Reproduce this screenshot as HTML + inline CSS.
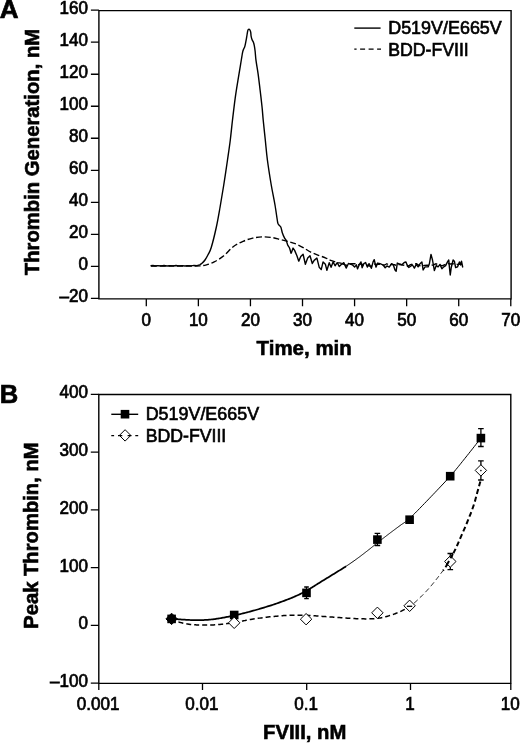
<!DOCTYPE html>
<html lang="en">
<head>
<meta charset="utf-8">
<title>Thrombin generation figure</title>
<style>
html,body{margin:0;padding:0;background:#fff;}
body{width:520px;height:743px;overflow:hidden;}
svg{display:block;}
text{font-family:"Liberation Sans", Arial, Helvetica, sans-serif;fill:#000;}
.ax{fill:none;stroke:#000;stroke-width:1.4;}
.tk{fill:none;stroke:#000;stroke-width:1.3;}
.ln{fill:none;stroke:#000;stroke-width:1.4;stroke-linejoin:round;stroke-linecap:butt;}
.lb{fill:none;stroke:#000;stroke-linejoin:round;}
.lbd{fill:none;stroke:#000;stroke-linejoin:round;stroke-dasharray:5 3;}
.dm{stroke:#000;stroke-width:1;}
.eb{fill:none;stroke:#000;stroke-width:1.3;}
.tl{font-size:17.5px;stroke:#000;stroke-width:0.7px;}
.lg{font-size:18.2px;stroke:#000;stroke-width:0.65px;}
.ti{font-size:20.8px;font-weight:bold;stroke:#000;stroke-width:0.6px;}
.pl{font-size:26px;font-weight:bold;stroke:#000;stroke-width:0.7px;}
</style>
</head>
<body>
<svg width="520" height="743" viewBox="0 0 520 743">
<rect x="0" y="0" width="520" height="743" fill="#fff"/>
<g id="panelA">
<path class="ax" d="M98.9 10.6 H511.1 V298.9 H98.9 Z"/>
<path class="tk" d="M90.9 298.37H98.9M90.9 266.35H98.9M90.9 234.33H98.9M90.9 202.31H98.9M90.9 170.29H98.9M90.9 138.27H98.9M90.9 106.25H98.9M90.9 74.23H98.9M90.9 42.21H98.9M90.9 10.19H98.9M146.3 298.9V306.2M198.37 298.9V306.2M250.44 298.9V306.2M302.51 298.9V306.2M354.58 298.9V306.2M406.65 298.9V306.2M458.72 298.9V306.2M510.79 298.9V306.2"/>
<text class="tl" x="87.9" y="302.07" text-anchor="end" textLength="28.46" lengthAdjust="spacingAndGlyphs">–20</text>
<text class="tl" x="87.9" y="270.05" text-anchor="end" textLength="9.49" lengthAdjust="spacingAndGlyphs">0</text>
<text class="tl" x="87.9" y="238.03" text-anchor="end" textLength="18.97" lengthAdjust="spacingAndGlyphs">20</text>
<text class="tl" x="87.9" y="206.01" text-anchor="end" textLength="18.97" lengthAdjust="spacingAndGlyphs">40</text>
<text class="tl" x="87.9" y="173.99" text-anchor="end" textLength="18.97" lengthAdjust="spacingAndGlyphs">60</text>
<text class="tl" x="87.9" y="141.97" text-anchor="end" textLength="18.97" lengthAdjust="spacingAndGlyphs">80</text>
<text class="tl" x="87.9" y="109.95" text-anchor="end" textLength="28.46" lengthAdjust="spacingAndGlyphs">100</text>
<text class="tl" x="87.9" y="77.93" text-anchor="end" textLength="28.46" lengthAdjust="spacingAndGlyphs">120</text>
<text class="tl" x="87.9" y="45.91" text-anchor="end" textLength="28.46" lengthAdjust="spacingAndGlyphs">140</text>
<text class="tl" x="87.9" y="13.89" text-anchor="end" textLength="28.46" lengthAdjust="spacingAndGlyphs">160</text>
<text class="tl" x="146.3" y="326" text-anchor="middle" textLength="9.49" lengthAdjust="spacingAndGlyphs">0</text>
<text class="tl" x="198.37" y="326" text-anchor="middle" textLength="18.97" lengthAdjust="spacingAndGlyphs">10</text>
<text class="tl" x="250.44" y="326" text-anchor="middle" textLength="18.97" lengthAdjust="spacingAndGlyphs">20</text>
<text class="tl" x="302.51" y="326" text-anchor="middle" textLength="18.97" lengthAdjust="spacingAndGlyphs">30</text>
<text class="tl" x="354.58" y="326" text-anchor="middle" textLength="18.97" lengthAdjust="spacingAndGlyphs">40</text>
<text class="tl" x="406.65" y="326" text-anchor="middle" textLength="18.97" lengthAdjust="spacingAndGlyphs">50</text>
<text class="tl" x="458.72" y="326" text-anchor="middle" textLength="18.97" lengthAdjust="spacingAndGlyphs">60</text>
<text class="tl" x="510.79" y="326" text-anchor="middle" textLength="18.97" lengthAdjust="spacingAndGlyphs">70</text>
<path class="ln" d="M150.5 265.8 L153 265.5 L155 266 L158 265.6 L161 265.9 L164 265.5 L167 266 L170 265.7 L173 265.9 L176 265.5 L179 265.9 L182 265.6 L185 266 L188 265.6 L191 265.9 L194 265.4 L197 265.6 L199.5 264.9"/>
<path class="ln" d="M199.5 264.9 C199.92 264.63 201.08 264.12 202 263.3 C202.92 262.48 204 261.42 205 260 C206 258.58 206.96 256.88 208 254.8 C209.04 252.72 209.88 252.05 211.25 247.5 C212.62 242.95 214.79 234.17 216.25 227.5 C217.71 220.83 218.75 214.58 220 207.5 C221.25 200.42 222.5 192.92 223.75 185 C225 177.08 226.41 167.5 227.5 160 C228.59 152.5 229.47 146.67 230.3 140 C231.13 133.33 231.68 126.98 232.5 120 C233.32 113.02 234.3 104.67 235.2 98.1 C236.1 91.53 237 86.22 237.9 80.6 C238.8 74.98 239.82 69.12 240.6 64.4 C241.38 59.68 242.08 54.88 242.6 52.3 C243.12 49.72 243.32 49.92 243.7 48.9 C244.08 47.88 244.42 48.1 244.9 46.2 C245.38 44.3 246.13 40.07 246.6 37.5 C247.07 34.93 247.37 32.17 247.7 30.8 C248.03 29.43 248.27 29.5 248.6 29.3 C248.93 29.1 249.35 29.13 249.7 29.6 C250.05 30.07 250.47 31 250.7 32.1 C250.93 33.2 250.88 34.97 251.1 36.2 C251.32 37.43 251.62 38.5 252 39.5 C252.38 40.5 253.02 41.18 253.4 42.2 C253.78 43.22 254.02 44.13 254.3 45.6 C254.58 47.07 254.82 48.53 255.1 51 C255.38 53.47 255.5 56.6 256 60.4 C256.5 64.2 257.42 68.87 258.1 73.8 C258.78 78.73 259.43 84.38 260.1 90 C260.77 95.62 261.58 102.5 262.1 107.5 C262.62 112.5 262.67 114.58 263.2 120 C263.73 125.42 264.6 133.33 265.3 140 C266 146.67 266.41 152.5 267.4 160 C268.39 167.5 269.98 177.5 271.25 185 C272.52 192.5 273.94 198.83 275 205 C276.06 211.17 277 218.73 277.6 222 C278.2 225.27 278.07 223.77 278.6 224.6 C279.13 225.43 280.18 225.65 280.8 227 C281.42 228.35 281.67 230.85 282.3 232.7 C282.93 234.55 283.95 236.82 284.6 238.1 C285.25 239.38 285.68 239.25 286.2 240.4 C286.72 241.55 287.15 243.72 287.7 245 C288.25 246.28 288.93 246.68 289.5 248.1 C290.07 249.52 290.83 252.6 291.1 253.5"/>
<path class="ln" d="M291.1 253.5 L293.08 248.08 L294.62 250.38 L296.92 255.77 L298.77 261.15 L300.77 256.54 L303.08 254.23 L305.38 264.23 L307.69 258.08 L310 255.77 L312.31 263.46 L314.15 260.38 L316.92 258.08 L319.23 267.31 L321.23 269.62 L323.08 261.92 L325.38 264.23 L326.92 270.38 L329.23 262.69 L331.08 267.31 L333.08 261.92 L335.08 265.77 L337.23 262.69 L339.23 266.54 L341.54 264.23 L343.85 262.69 L346.15 268.08 L348.46 263.46 L352.31 264.81 L354.62 267.11 L356.35 264.81 L357.5 268.85 L359.23 264.81 L360.96 261.92 L362.11 267.69 L363.85 263.65 L365.58 262.5 L367.31 267.11 L369.04 263.65 L371.35 268.27 L373.08 261.92 L374.23 259.61 L375.96 267.11 L377.69 263.08 L380 263.65 L382.88 264.81 L385.19 267.69 L386.92 265.96 L389.23 267.11 L391.54 263.65 L393.27 264.81 L395 270 L396.15 271.15 L397.31 263.08 L399.61 264.23 L401.92 264.81 L404.23 262.5 L405.96 261.92 L407.69 266.54 L406.88 264.38 L408.75 267.5 L410.62 266.25 L412.5 265 L414.38 268.12 L416.25 264.38 L418.12 266.88 L420 263.75 L421.88 261.88 L423.12 270 L425 266.88 L428.12 266.88 L429.38 263.75 L431 254.38 L432.5 260 L434.38 270.62 L436.25 265.62 L438.12 266.88 L440 264.38 L441.88 268.75 L443.75 266.88 L445.62 265.62 L447.5 261.88 L448.75 260 L449.38 266.88 L450.25 275 L451.25 267.5 L453.12 260 L454.38 261.25 L455.62 267.5 L457.5 266.88 L459.38 261.88 L460.62 265 L461.5 261.25 L462.75 267.5"/>
<path class="ln" stroke-dasharray="6 2.7" d="M151 266 C154.17 266 163.5 266 170 266 C176.5 266 185 266.02 190 266 C195 265.98 197.25 266.1 200 265.9 C202.75 265.7 204.13 265.47 206.5 264.8 C208.87 264.13 211.32 263.4 214.2 261.9 C217.08 260.4 220.58 258.37 223.8 255.8 C227.02 253.23 230.28 248.92 233.5 246.5 C236.72 244.08 239.9 242.7 243.1 241.3 C246.3 239.9 249.5 238.83 252.7 238.1 C255.9 237.37 259.1 237 262.3 236.9 C265.5 236.8 268.85 237.05 271.9 237.5 C274.95 237.95 277.58 238.85 280.6 239.6 C283.62 240.35 287.27 241.2 290 242 C292.73 242.8 294.7 243.42 297 244.4 C299.3 245.38 301.5 246.6 303.8 247.9 C306.1 249.2 308.35 250.97 310.8 252.2 C313.25 253.43 316.07 254.37 318.5 255.3 C320.93 256.23 323.23 256.9 325.4 257.8 C327.57 258.7 328.82 259.75 331.5 260.7 C334.18 261.65 339.83 263.03 341.5 263.5"/>
<path class="ln" stroke-dasharray="6 2.7" d="M341.5 263.5 L344 264.44 L346.21 265.29 L348.31 264.99 L350.82 263.75 L353.53 263.7 L356.14 263.78 L358.27 264.7 L361.43 263.92 L363.74 265.23 L367.07 265.1 L369.62 266.14 L371.69 265.83 L374.09 263.98 L376.26 264.4 L379.4 264.07 L382.21 265.26 L384.74 265.02 L386.82 263.75 L389.11 265.37 L391.71 264.42 L394.53 264.78 L396.95 265.67 L399.93 264.23 L402.73 264.97 L405.96 265.5 L408.36 266.15 L410.53 264.69 L413.59 264 L416.27 263.7 L419.21 265.59 L422.01 265.88 L424.45 265.41 L427.28 265.11 L429.92 265.78 L433.24 264.83 L436.17 263.76 L439.15 265.28 L442.54 265.74 L444.94 264.6 L447.88 263.66 L450.52 264.04 L452.69 263.75 L455.76 263.94 L458.11 264.62 L461.33 263.81"/>
<path class="ln" d="M354.3 28.1H380.6"/>
<path class="ln" stroke-dasharray="5 3.5" stroke-dashoffset="2.7" d="M354.3 49.1H381"/>
<text class="lg" x="388.2" y="33.8" textLength="113.6" lengthAdjust="spacingAndGlyphs">D519V/E665V</text>
<text class="lg" x="388.2" y="55.5" textLength="80.6" lengthAdjust="spacingAndGlyphs">BDD-FVIII</text>
<text class="ti" transform="translate(39.3 275.2) rotate(-90)" textLength="246.4" lengthAdjust="spacingAndGlyphs">Thrombin Generation, nM</text>
<text class="ti" x="256.6" y="355.4" textLength="95.2" lengthAdjust="spacingAndGlyphs">Time, min</text>
<text class="pl" x="-0.2" y="18.3">A</text>
</g>
<g id="panelB">
<path class="ax" d="M98.8 394.5 H510.8 V683.4 H98.8 Z"/>
<path class="tk" d="M90.8 683.21H98.8M90.8 625.45H98.8M90.8 567.69H98.8M90.8 509.93H98.8M90.8 452.17H98.8M90.8 394.41H98.8M98.8 683.4V690M202.5 683.4V690M306.7 683.4V690M410.5 683.4V690M510.8 683.4V690"/>
<text class="tl" x="88" y="687.11" text-anchor="end" textLength="37.95" lengthAdjust="spacingAndGlyphs">–100</text>
<text class="tl" x="88" y="629.35" text-anchor="end" textLength="9.49" lengthAdjust="spacingAndGlyphs">0</text>
<text class="tl" x="88" y="571.59" text-anchor="end" textLength="28.46" lengthAdjust="spacingAndGlyphs">100</text>
<text class="tl" x="88" y="513.83" text-anchor="end" textLength="28.46" lengthAdjust="spacingAndGlyphs">200</text>
<text class="tl" x="88" y="456.07" text-anchor="end" textLength="28.46" lengthAdjust="spacingAndGlyphs">300</text>
<text class="tl" x="88" y="398.31" text-anchor="end" textLength="28.46" lengthAdjust="spacingAndGlyphs">400</text>
<text class="tl" x="98.2" y="709.8" text-anchor="middle" textLength="42.69" lengthAdjust="spacingAndGlyphs">0.001</text>
<text class="tl" x="201.9" y="709.8" text-anchor="middle" textLength="33.2" lengthAdjust="spacingAndGlyphs">0.01</text>
<text class="tl" x="306.1" y="709.8" text-anchor="middle" textLength="23.72" lengthAdjust="spacingAndGlyphs">0.1</text>
<text class="tl" x="409.9" y="709.8" text-anchor="middle" textLength="9.49" lengthAdjust="spacingAndGlyphs">1</text>
<text class="tl" x="510.2" y="709.8" text-anchor="middle" textLength="18.97" lengthAdjust="spacingAndGlyphs">10</text>
<path class="lb" stroke-width="1.75" d="M171.2 618.6 L171.62 618.64 L172.14 618.69 L172.75 618.75 L173.44 618.81 L174.18 618.89 L174.98 618.96 L175.8 619.04 L176.65 619.12 L177.51 619.2 L178.36 619.27 L179.2 619.34 L180 619.4 L180.8 619.46 L181.62 619.52 L182.46 619.57 L183.32 619.63 L184.18 619.68 L185.05 619.74 L185.91 619.79 L186.77 619.84 L187.61 619.88 L188.44 619.93 L189.23 619.96 L190 620 L190.72 620.03 L191.4 620.07 L192.05 620.1 L192.67 620.13 L193.27 620.15 L193.88 620.17 L194.48 620.19 L195.11 620.21 L195.77 620.22 L196.46 620.22 L197.2 620.21 L198 620.2 L198.86 620.18 L199.77 620.16 L200.72 620.13 L201.7 620.1 L202.72 620.06 L203.75 620.02 L204.8 619.97 L205.85 619.91 L206.91 619.85 L207.95 619.77 L208.99 619.69 L210 619.6 L211 619.5 L212 619.39 L213 619.27 L213.99 619.14 L214.99 619.01 L215.99 618.87 L216.99 618.72 L217.99 618.57 L218.99 618.41 L219.99 618.24 L220.99 618.07 L222 617.9 L223 617.72 L223.98 617.54 L224.95 617.36 L225.92 617.17 L226.89 616.98 L227.86 616.78 L228.85 616.57 L229.86 616.36 L230.89 616.14 L231.96 615.9 L233.06 615.66 L234.2 615.4 L235.37 615.14 L236.56 614.87 L237.77 614.6 L239 614.32 L240.25 614.04 L241.54 613.74 L242.85 613.43 L244.2 613.1 L245.59 612.76 L247.01 612.39 L248.48 612.01 L250 611.6 L251.58 611.17 L253.22 610.71 L254.92 610.23 L256.67 609.74 L258.46 609.22 L260.27 608.69 L262.1 608.15 L263.94 607.6 L265.78 607.03 L267.61 606.46 L269.42 605.88 L271.2 605.3 L272.98 604.71 L274.8 604.09 L276.64 603.46 L278.49 602.81 L280.34 602.16 L282.18 601.49 L283.99 600.83 L285.77 600.17 L287.5 599.51 L289.17 598.86 L290.78 598.22 L292.3 597.6 L293.74 596.99 L295.11 596.4 L296.42 595.82 L297.67 595.24 L298.87 594.67 L300.04 594.1 L301.17 593.53 L302.29 592.96 L303.39 592.38 L304.49 591.8 L305.59 591.21 L306.7 590.6 L307.81 589.98 L308.88 589.36 L309.94 588.74 L310.97 588.11 L311.99 587.47 L313.01 586.83 L314.02 586.19 L315.03 585.54 L316.05 584.88 L317.08 584.23 L318.13 583.56 L319.2 582.9 L320.29 582.23 L321.39 581.55 L322.5 580.87 L323.63 580.18 L324.75 579.49 L325.89 578.79 L327.02 578.1 L328.16 577.4 L329.3 576.7 L330.44 576 L331.57 575.3 L332.7 574.6 L333.83 573.9 L334.97 573.2 L336.12 572.5 L337.27 571.79 L338.43 571.09 L339.57 570.38 L340.72 569.68 L341.85 568.97 L342.97 568.27 L344.07 567.58 L345.15 566.89 L346 566.33"/>
<path class="lb" stroke-width="1.0" d="M346 566.33 L346.2 566.2 L347.23 565.52 L348.23 564.85 L349.22 564.19 L350.18 563.53 L351.13 562.88 L352.07 562.23 L353.01 561.57 L353.94 560.91 L354.87 560.25 L355.81 559.58 L356.75 558.89 L357.7 558.2 L358.67 557.49 L359.66 556.75 L360.66 556 L361.67 555.23 L362.68 554.46 L363.69 553.69 L364.68 552.92 L365.65 552.17 L366.59 551.44 L367.5 550.73 L368.37 550.04 L369.2 549.4 L369.96 548.8 L370.66 548.25 L371.3 547.73 L371.9 547.24 L372.48 546.77 L373.04 546.31 L373.61 545.85 L374.19 545.38 L374.79 544.89 L375.43 544.37 L376.13 543.81 L376.9 543.2 L377.73 542.55 L378.61 541.86 L379.53 541.14 L380.48 540.39 L381.46 539.63 L382.46 538.85 L383.48 538.06 L384.5 537.27 L385.52 536.49 L386.53 535.71 L387.52 534.94 L388.5 534.2 L389.47 533.46 L390.44 532.73 L391.43 531.99 L392.41 531.25 L393.39 530.52 L394.38 529.79 L395.35 529.06 L396.31 528.35 L397.26 527.64 L398.19 526.95 L399.11 526.27 L400 525.6 L400.84 524.99 L401.61 524.45 L402.33 523.96 L403.02 523.51 L403.7 523.07 L404.38 522.61 L405.09 522.12 L405.83 521.58 L406.64 520.95 L407.52 520.23 L408.5 519.39 L409.6 518.4 L410.8 517.28 L412.09 516.04 L413.45 514.71 L414.87 513.3 L416.36 511.8 L417.9 510.24 L419.48 508.62 L421.1 506.95 L422.75 505.24 L424.42 503.51 L426.11 501.76 L427.8 500 L429.54 498.19 L431.37 496.29 L433.26 494.32 L435.2 492.3 L437.17 490.23 L439.15 488.15 L441.12 486.06 L443.07 483.99 L444.97 481.95 L446.8 479.96 L448.55 478.04 L450.2 476.2 L451.75 474.44 L453.23 472.73 L454.64 471.07 L455.99 469.45 L457.3 467.86 L458.57 466.29 L459.81 464.75 L461.04 463.21 L462.27 461.67 L463.5 460.13 L464.74 458.57 L466 457 L467.32 455.35 L468.71 453.61 L470.14 451.81 L471.59 449.98 L473.03 448.15 L474.44 446.35 L475.79 444.62 L477.07 442.99 L478.24 441.49 L479.29 440.15 L480.18 439.01 L480.9 438.1"/>
<path class="lbd" stroke-width="1.5" stroke-dashoffset="0" d="M171.2 618.6 L171.61 618.78 L172.11 619.01 L172.71 619.29 L173.38 619.6 L174.1 619.93 L174.88 620.28 L175.67 620.64 L176.49 620.99 L177.3 621.34 L178.1 621.66 L178.87 621.95 L179.6 622.2 L180.3 622.42 L181 622.63 L181.7 622.82 L182.4 623 L183.09 623.17 L183.79 623.33 L184.49 623.47 L185.19 623.61 L185.89 623.74 L186.59 623.87 L187.3 623.99 L188 624.1 L188.68 624.21 L189.31 624.31 L189.92 624.4 L190.51 624.48 L191.1 624.55 L191.71 624.62 L192.35 624.68 L193.03 624.73 L193.78 624.78 L194.59 624.83 L195.49 624.86 L196.5 624.9 L197.63 624.93 L198.87 624.96 L200.2 624.99 L201.62 625.01 L203.09 625.03 L204.61 625.04 L206.14 625.05 L207.68 625.04 L209.21 625.02 L210.7 625 L212.13 624.96 L213.5 624.9 L214.82 624.83 L216.12 624.74 L217.4 624.64 L218.67 624.53 L219.93 624.41 L221.17 624.28 L222.39 624.14 L223.6 624 L224.8 623.85 L225.98 623.7 L227.15 623.55 L228.3 623.4 L229.44 623.25 L230.56 623.08 L231.66 622.92 L232.75 622.74 L233.83 622.57 L234.89 622.39 L235.94 622.21 L236.97 622.02 L237.99 621.84 L239.01 621.66 L240.01 621.48 L241 621.3 L241.95 621.13 L242.84 620.95 L243.68 620.78 L244.49 620.61 L245.29 620.45 L246.09 620.27 L246.92 620.1 L247.79 619.93 L248.71 619.75 L249.71 619.57 L250.8 619.39 L252 619.2 L253.32 619 L254.75 618.79 L256.28 618.58 L257.88 618.35 L259.54 618.13 L261.24 617.9 L262.95 617.68 L264.67 617.46 L266.38 617.25 L268.04 617.05 L269.66 616.87 L271.2 616.7 L272.68 616.55 L274.12 616.4 L275.54 616.26 L276.93 616.13 L278.31 616.01 L279.67 615.9 L281.04 615.8 L282.4 615.7 L283.77 615.61 L285.16 615.53 L286.57 615.46 L288 615.4 L289.46 615.35 L290.93 615.3 L292.42 615.26 L293.91 615.23 L295.41 615.21 L296.93 615.19 L298.44 615.19 L299.96 615.19 L301.47 615.21 L302.99 615.23 L304.5 615.26 L306 615.3 L307.5 615.35 L309.01 615.42 L310.52 615.51 L312.04 615.6 L313.55 615.71 L315.06 615.82 L316.57 615.93 L318.07 616.05 L319.57 616.17 L321.06 616.28 L322.54 616.4 L324 616.5 L325.44 616.6 L326.86 616.7 L328.25 616.8 L329.63 616.9 L331 617.01 L332.38 617.11 L333.75 617.21 L335.15 617.31 L336.56 617.41 L338 617.51 L339.48 617.6 L341 617.7 L342.58 617.8 L344.22 617.91 L345.91 618.01 L347.63 618.13 L349.37 618.24 L351.12 618.34 L352.87 618.45 L354.59 618.54 L356.28 618.63 L357.92 618.7 L359.5 618.76 L361 618.8 L362.43 618.83 L363.82 618.86 L365.16 618.88 L366.46 618.89 L367.72 618.89 L368.96 618.88 L370.17 618.86 L371.36 618.82 L372.53 618.77 L373.69 618.7 L374.85 618.61 L376 618.5 L377.14 618.37 L378.25 618.23 L379.34 618.06 L380.41 617.89 L381.46 617.69 L382.5 617.48 L383.53 617.26 L384.56 617.01 L385.59 616.76 L386.62 616.49 L387.65 616.2 L388.7 615.9 L389.76 615.58 L390.83 615.25 L391.9 614.89 L392.98 614.52 L394.05 614.14 L395.12 613.74 L396.19 613.32 L397.24 612.9 L398.29 612.46 L399.31 612.02 L400.32 611.56 L401.3 611.1 L402.26 610.63 L403.21 610.15 L404.14 609.66 L405.05 609.16 L405.95 608.65 L406.84 608.13 L407.72 607.6 L408.59 607.05 L409.45 606.49 L409.6 606.39"/>
<path class="lbd" stroke-width="0.9" stroke-dashoffset="2.65" d="M409.6 606.39 L410.31 605.91 L411.16 605.31 L412 604.7 L412.83 604.07 L413.66 603.42 L414.46 602.76 L415.26 602.08 L416.05 601.38 L416.84 600.68 L417.62 599.95 L418.39 599.22 L419.17 598.48 L419.94 597.73 L420.72 596.97 L421.5 596.2 L422.28 595.42 L423.06 594.64 L423.84 593.84 L424.62 593.04 L425.39 592.22 L426.17 591.39 L426.94 590.56 L427.71 589.71 L428.49 588.85 L429.26 587.98 L430.03 587.09 L430.8 586.2 L431.57 585.29 L432.36 584.35 L433.14 583.39 L433.93 582.42 L434.72 581.44 L435.5 580.45 L436.28 579.46 L437.05 578.47 L437.81 577.48 L438.55 576.51 L439.29 575.54 L440 574.6 L440.69 573.68 L441.37 572.8 L442.03 571.93 L442.68 571.08 L443 570.65"/>
<path class="lbd" stroke-width="2.0" stroke-dashoffset="3.77" d="M443 570.65 L443.31 570.24 L443.94 569.39 L444.57 568.53 L445.19 567.65 L445.81 566.75 L446.43 565.81 L447.06 564.83 L447.7 563.8 L448.35 562.71 L449 561.58 L449.66 560.4 L450.33 559.19 L450.99 557.95 L451.65 556.69 L452.31 555.42 L452.95 554.15 L453.59 552.88 L454.21 551.63 L454.81 550.4 L455.4 549.2 L455.97 548.02 L456.52 546.84 L457.05 545.67 L457.57 544.51 L458.08 543.35 L458.58 542.19 L459.07 541.05 L459.56 539.9 L460.05 538.77 L460.53 537.64 L461.01 536.52 L461.5 535.4 L461.98 534.31 L462.45 533.24 L462.92 532.2 L463.37 531.17 L463.83 530.15 L464.28 529.13 L464.74 528.1 L465.19 527.05 L465.66 525.97 L466.13 524.86 L466.61 523.71 L467.1 522.5 L467.61 521.24 L468.15 519.91 L468.7 518.55 L469.26 517.14 L469.82 515.71 L470.39 514.27 L470.95 512.82 L471.5 511.37 L472.04 509.93 L472.55 508.52 L473.04 507.14 L473.5 505.8 L473.93 504.49 L474.34 503.19 L474.73 501.89 L475.1 500.6 L475.46 499.33 L475.8 498.08 L476.13 496.84 L476.46 495.62 L476.77 494.42 L477.08 493.25 L477.39 492.11 L477.7 491 L478.01 489.89 L478.33 488.76 L478.65 487.62 L478.96 486.5 L479.27 485.39 L479.56 484.32 L479.84 483.31 L480.11 482.36 L480.35 481.49 L480.56 480.71 L480.75 480.05 L480.9 479.5"/>
<path class="eb" d="M306.5 587V598.6M304.2 587H308.8M304.2 598.6H308.8"/>
<path class="eb" d="M377.4 533.4V545.5M374.6 533.4H380.2M374.6 545.5H380.2"/>
<path class="eb" d="M480.9 428.6V446.5M478.1 428.6H483.7M478.1 446.5H483.7"/>
<path class="eb" d="M480.9 460.9V480M478.1 460.9H483.7M478.1 480H483.7"/>
<path class="eb" d="M450.3 553.5V569.7M447.5 553.5H453.1M447.5 569.7H453.1"/>
<rect x="167.3" y="614.6" width="8.6" height="8.6" fill="#000"/>
<rect x="229.9" y="610.7" width="8.6" height="8.6" fill="#000"/>
<rect x="302.2" y="588.6" width="8.6" height="8.6" fill="#000"/>
<rect x="373.1" y="535.3" width="8.6" height="8.6" fill="#000"/>
<rect x="405.3" y="515.4" width="8.6" height="8.6" fill="#000"/>
<rect x="445.9" y="471.9" width="8.6" height="8.6" fill="#000"/>
<rect x="476.6" y="433.8" width="8.6" height="8.6" fill="#000"/>
<path class="dm" fill="#000" d="M165.9 618.9L171.6 613.2L177.3 618.9L171.6 624.6Z"/>
<path class="dm" fill="#fff" d="M228.5 622.8L234.2 617.1L239.9 622.8L234.2 628.5Z"/>
<path class="dm" fill="#fff" d="M300.4 619.2L306.1 613.5L311.8 619.2L306.1 624.9Z"/>
<path class="dm" fill="#fff" d="M371.7 612.8L377.4 607.1L383.1 612.8L377.4 618.5Z"/>
<path class="dm" fill="#fff" d="M403.9 605.8L409.6 600.1L415.3 605.8L409.6 611.5Z"/>
<path class="dm" fill="#fff" d="M444.6 561.5L450.3 555.8L456 561.5L450.3 567.2Z"/>
<path class="dm" fill="#fff" d="M475.2 470.4L480.9 464.7L486.6 470.4L480.9 476.1Z"/>
<path class="eb" d="M406.9 606.3H412.2"/>
<circle cx="480.9" cy="470.6" r="0.8" fill="#000"/>
<path class="lbd" stroke-width="2" d="M446.6 565.3L453.6 552.6"/>
<path class="ln" d="M111.3 414.3H138.2"/>
<rect x="120.7" y="409.9" width="8.6" height="8.6" fill="#000"/>
<path class="dm" fill="none" d="M119.4 435.4L125.1 429.7L130.8 435.4L125.1 441.1Z"/>
<path class="ln" d="M111.3 435.6H114.1M118 435.6H122.3M127.6 435.6H131.4M135.3 435.6H138.2"/>
<text class="lg" x="145.7" y="420.4" textLength="113.4" lengthAdjust="spacingAndGlyphs">D519V/E665V</text>
<text class="lg" x="145.7" y="441.9" textLength="80.6" lengthAdjust="spacingAndGlyphs">BDD-FVIII</text>
<text class="ti" transform="translate(38.4 628.8) rotate(-90)" textLength="186.4" lengthAdjust="spacingAndGlyphs">Peak Thrombin, nM</text>
<text class="ti" x="263" y="739.2" textLength="83.3" lengthAdjust="spacingAndGlyphs">FVIII, nM</text>
<text class="pl" x="-0.3" y="403.1" style="font-size:25.6px">B</text>
</g>
</svg>
</body>
</html>
